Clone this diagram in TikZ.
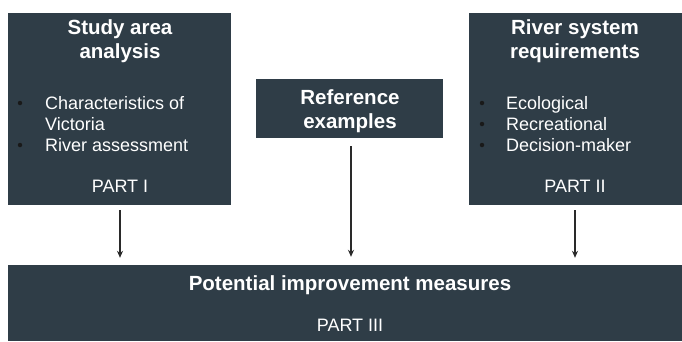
\documentclass[tikz,border=0pt]{standalone}
\usepackage{fontspec}
\setmainfont{Liberation Sans}
\usetikzlibrary{arrows.meta}
\definecolor{slate}{HTML}{2F3D47}
\definecolor{arrowgrey}{HTML}{2A2A2A}
\begin{document}
\begin{tikzpicture}[x=1pt,y=-1pt,
  panel/.style={fill=slate,draw=none,inner sep=0pt},
  head/.style={text=white,font=\fontsize{20.5}{20.5}\selectfont\bfseries,anchor=base,inner sep=0pt},
  item/.style={text=white,font=\fontsize{18}{18}\selectfont,anchor=base west,inner sep=0pt},
  partlbl/.style={text=white,font=\fontsize{18}{18}\selectfont,anchor=base,inner sep=0pt},
  dot/.style={circle,fill=black!90,inner sep=0pt,minimum size=4.5pt},
  arr/.style={draw=arrowgrey,line width=1.3pt,-{Stealth[length=7pt,width=6pt]}}]
\useasboundingbox[fill=white] (0,0) rectangle (682,341);

% panels
\node[panel,minimum width=223pt,minimum height=192pt] (left) at (119.5,109) {};
\node[panel,minimum width=213pt,minimum height=192pt] (right) at (575.5,109) {};
\node[panel,minimum width=187pt,minimum height=59pt] (mid) at (349.5,108.5) {};
\node[panel,minimum width=674pt,minimum height=76pt] (bottom) at (345,303) {};

% left panel text
\node[head] (lt1) at (120,34) {Study area};
\node[head] (lt2) at (120,58.5) {analysis};
\node[dot] (lb1) at (20,103) {};
\node[item] (li1) at (45,109.5) {Characteristics of};
\node[item] (li2) at (45,130) {Victoria};
\node[dot] (lb2) at (20,145) {};
\node[item] (li3) at (45,151.5) {River assessment};
\node[partlbl] (lp) at (120,192.5) {PART I};

% right panel text
\node[head] (rt1) at (575,34) {River system};
\node[head] (rt2) at (575,58.5) {requirements};
\node[dot] (rb1) at (482,103) {};
\node[item] (ri1) at (506,109.5) {Ecological};
\node[dot] (rb2) at (482,124) {};
\node[item] (ri2) at (506,130.5) {Recreational};
\node[dot] (rb3) at (482,145) {};
\node[item] (ri3) at (506,151.5) {Decision-maker};
\node[partlbl] (rp) at (575,192.5) {PART II};

% middle panel text
\node[head] (mt1) at (350,104) {Reference};
\node[head] (mt2) at (350,128.5) {examples};

% bottom panel text
\node[head] (bt) at (350,290) {Potential improvement measures};
\node[partlbl] (bp) at (350,331.5) {PART III};

% connectors
\draw[arr,shorten <=5pt,shorten >=7pt] (120,205) coordinate (la) -- (la |- bottom.north);
\draw[arr,shorten <=8pt,shorten >=8pt] (351,138) coordinate (ma) -- (ma |- bottom.north);
\draw[arr,shorten <=5pt,shorten >=7pt] (575,205) coordinate (ra) -- (ra |- bottom.north);
\end{tikzpicture}
\end{document}
